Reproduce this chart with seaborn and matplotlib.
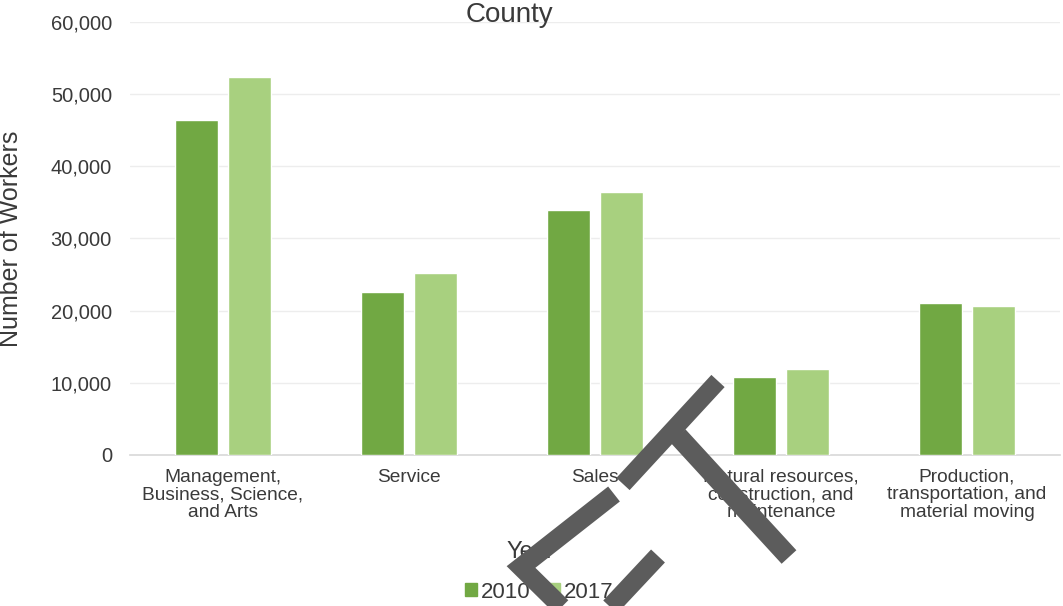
import matplotlib
matplotlib.use("Agg")
import matplotlib.pyplot as plt
from matplotlib.lines import Line2D
from matplotlib.patches import Patch
from matplotlib.ticker import FuncFormatter
import seaborn as sns
import pandas as pd

# occupations and worker counts
categories = ["Management,\nBusiness, Science,\nand Arts",
              "Service",
              "Sales",
              "Natural resources,\nconstruction, and\nmaintenance",
              "Production,\ntransportation, and\nmaterial moving"]
workers_2010 = [46400, 22600, 33900, 10800, 21050]
workers_2017 = [52350, 25250, 36450, 11900, 20650]
years = ["2010", "2017"]
colors = ["#71a843", "#a8d07f"]
yticks = [0, 10000, 20000, 30000, 40000, 50000, 60000]

df = pd.DataFrame({
    "Occupation": categories * 2,
    "Year": [years[0]] * len(categories) + [years[1]] * len(categories),
    "Workers": workers_2010 + workers_2017,
})

sns.set_theme(style="white")
plt.rcParams["font.family"] = ["Liberation Sans", "DejaVu Sans"]
txt = "#3a3a3a"

W, H = 1063, 606
fig = plt.figure(figsize=(W / 100, H / 100), dpi=100)
ax = fig.add_axes([130 / W, 1 - 455 / H, 930 / W, (455 - 22) / H])

sns.barplot(data=df, x="Occupation", y="Workers", hue="Year",
            palette=colors, width=0.575, gap=0.2, saturation=1,
            legend=False, ax=ax, zorder=3)

ax.set_ylim(0, 60000)
ax.set_xlim(-0.5, 4.5)
ax.set_yticks(yticks)
ax.yaxis.set_major_formatter(FuncFormatter(lambda v, p: f"{int(v):,}"))
ax.yaxis.grid(True, color="#ededed", lw=1, zorder=0)
for s in ["left", "right", "top"]:
    ax.spines[s].set_visible(False)
ax.spines["bottom"].set_color("#dadada")
ax.tick_params(axis="y", length=0, pad=13, labelsize=14.5, labelcolor=txt)
ax.tick_params(axis="x", length=0, pad=10, labelsize=13.8, labelcolor=txt)
for lab in ax.get_xticklabels():
    lab.set_linespacing(1.04)
ax.set_xlabel("")
ax.set_ylabel("Number of Workers", fontsize=18, color=txt)
ax.yaxis.set_label_coords(-0.115, 0.5)

fig.text(0.479, 1 - 22 / H, "County", fontsize=20, color=txt,
         ha="center", va="baseline")
fig.text(0.4986, 1 - 552 / H, "Year", fontsize=17, color=txt,
         ha="center", va="center")
handles = [Patch(color=c, label=y) for c, y in zip(colors, years)]
fig.legend(handles=handles, loc="center", bbox_to_anchor=(0.507, 1 - 592 / H),
           ncol=2, frameon=False, fontsize=16, handlelength=0.55,
           handleheight=0.55, handletextpad=0.15, columnspacing=0.8,
           labelcolor=txt)

# grey "CT" stamp over the scan
def stroke(pts, w):
    xs = [p[0] / W for p in pts]
    ys = [1 - p[1] / H for p in pts]
    fig.add_artist(Line2D(xs, ys, transform=fig.transFigure, color="#5c5c5c",
                          lw=w * 0.72, solid_capstyle="butt",
                          solid_joinstyle="miter", zorder=10))

stroke([(623, 484), (718, 381)], 18)
stroke([(678, 436), (789, 557)], 20)
stroke([(614, 494), (521, 567), (585, 630)], 19)
stroke([(658, 556), (598, 620)], 19)

fig.savefig("out.png", dpi=100)
